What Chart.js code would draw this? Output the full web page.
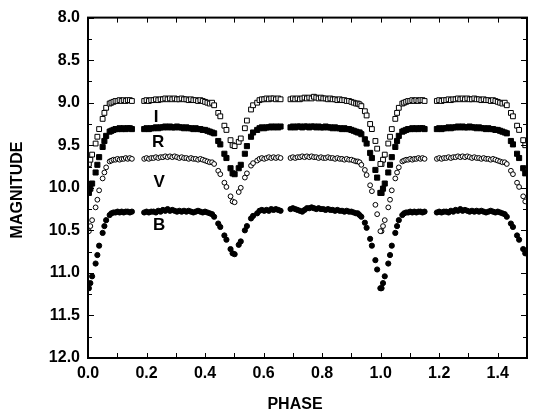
<!DOCTYPE html>
<html>
<head>
<meta charset="utf-8">
<script src="https://cdn.jsdelivr.net/npm/chart.js@4.4.1/dist/chart.umd.min.js"></script>
<style>
  html, body { margin: 0; padding: 0; background: #fff; }
  #lightCurve { display: block; }
</style>
</head>
<body>
<canvas id="lightCurve" width="533" height="417"></canvas>
<script>
// fases observadas (0..1), se repiten en 1..1.5
const phase = [
  0.003, 0.008, 0.014, 0.026, 0.032, 0.038, 0.050, 0.056, 0.062, 0.074, 0.080, 0.087,
  0.094, 0.101, 0.108, 0.115, 0.122, 0.129, 0.136, 0.143, 0.150,
  0.192, 0.200, 0.208, 0.216, 0.224, 0.232, 0.240, 0.248, 0.256, 0.264, 0.272, 0.280,
  0.288, 0.296, 0.304, 0.312, 0.320, 0.328, 0.336, 0.344, 0.352, 0.360, 0.368, 0.376,
  0.384, 0.392, 0.400, 0.408, 0.416,
  0.424, 0.431, 0.445, 0.452, 0.466, 0.473, 0.487, 0.494, 0.501, 0.515, 0.522, 0.536,
  0.543, 0.557, 0.564, 0.578,
  0.586, 0.594, 0.602, 0.610, 0.618, 0.626, 0.634, 0.642, 0.650, 0.658,
  0.692, 0.700, 0.708, 0.716, 0.724, 0.732, 0.740, 0.748, 0.756, 0.764, 0.772, 0.780,
  0.788, 0.796, 0.804, 0.812, 0.820, 0.828, 0.836, 0.844, 0.852, 0.860, 0.868, 0.876,
  0.884, 0.892, 0.900, 0.908, 0.916,
  0.922, 0.928, 0.934, 0.946, 0.952, 0.964, 0.970, 0.982, 0.988, 0.999
];

const magI = [
  9.72, 9.67, 9.61, 9.48, 9.40, 9.31, 9.19, 9.12, 9.06, 9.01, 9.00, 8.99,
  8.98, 8.98, 8.97, 8.98, 8.97, 8.98, 8.97, 8.97, 8.98,
  8.98, 8.97, 8.98, 8.97, 8.97, 8.96, 8.97, 8.96, 8.96, 8.95, 8.96, 8.95,
  8.96, 8.95, 8.96, 8.96, 8.95, 8.96, 8.96, 8.97, 8.96, 8.97, 8.97, 8.98,
  8.97, 8.98, 8.99, 9.00, 9.01,
  9.00, 9.03, 9.12, 9.16, 9.27, 9.32, 9.44, 9.50, 9.51, 9.46, 9.42, 9.30,
  9.21, 9.08, 9.03, 9.00,
  8.97, 8.96, 8.96, 8.95, 8.96, 8.95, 8.95, 8.96, 8.95, 8.96,
  8.96, 8.95, 8.96, 8.95, 8.96, 8.95, 8.94, 8.95, 8.94, 8.95, 8.93, 8.94,
  8.95, 8.94, 8.95, 8.95, 8.96, 8.95, 8.96, 8.96, 8.97, 8.96, 8.97, 8.97,
  8.98, 8.98, 8.99, 9.00, 9.01,
  9.01, 9.02, 9.04, 9.10, 9.15, 9.25, 9.31, 9.45, 9.54, 9.72
];

const magR = [
  10.06, 10.01, 9.95, 9.82, 9.73, 9.64, 9.52, 9.45, 9.39, 9.34, 9.33, 9.32,
  9.31, 9.31, 9.30, 9.31, 9.30, 9.31, 9.30, 9.30, 9.31,
  9.31, 9.30, 9.31, 9.30, 9.30, 9.29, 9.30, 9.29, 9.29, 9.28, 9.29, 9.28,
  9.29, 9.29, 9.28, 9.29, 9.29, 9.30, 9.29, 9.30, 9.30, 9.31, 9.30, 9.31,
  9.31, 9.32, 9.32, 9.33, 9.34,
  9.35, 9.36, 9.45, 9.49, 9.60, 9.65, 9.77, 9.83, 9.84, 9.77, 9.73, 9.60,
  9.51, 9.40, 9.35, 9.32,
  9.30, 9.29, 9.30, 9.29, 9.29, 9.28, 9.29, 9.28, 9.29, 9.28,
  9.29, 9.28, 9.29, 9.28, 9.28, 9.29, 9.28, 9.28, 9.29, 9.28, 9.28, 9.29,
  9.28, 9.29, 9.29, 9.28, 9.29, 9.29, 9.30, 9.29, 9.30, 9.30, 9.31, 9.30,
  9.31, 9.31, 9.32, 9.33, 9.34,
  9.35, 9.35, 9.37, 9.43, 9.48, 9.59, 9.65, 9.79, 9.88, 10.06
];

const magV = [
  10.51, 10.45, 10.38, 10.23, 10.14, 10.03, 9.89, 9.82, 9.76, 9.69, 9.68, 9.67,
  9.67, 9.66, 9.67, 9.66, 9.66, 9.65, 9.66, 9.65, 9.66,
  9.66, 9.65, 9.66, 9.65, 9.65, 9.64, 9.65, 9.64, 9.64, 9.63, 9.64, 9.63,
  9.64, 9.63, 9.64, 9.65, 9.64, 9.65, 9.65, 9.66, 9.65, 9.66, 9.66, 9.67,
  9.66, 9.67, 9.68, 9.69, 9.70,
  9.70, 9.72, 9.80, 9.84, 9.94, 9.99, 10.10, 10.16, 10.17, 10.05, 10.00, 9.88,
  9.83, 9.74, 9.71, 9.68,
  9.66, 9.65, 9.66, 9.65, 9.64, 9.65, 9.64, 9.65, 9.64, 9.65,
  9.65, 9.64, 9.65, 9.64, 9.64, 9.63, 9.64, 9.63, 9.64, 9.63, 9.64, 9.64,
  9.65, 9.64, 9.65, 9.65, 9.64, 9.65, 9.65, 9.66, 9.65, 9.66, 9.66, 9.67,
  9.66, 9.67, 9.67, 9.68, 9.69,
  9.69, 9.70, 9.73, 9.79, 9.85, 9.97, 10.04, 10.20, 10.31, 10.51
];

const magB = [
  11.18, 11.12, 11.04, 10.89, 10.79, 10.68, 10.53, 10.45, 10.38, 10.32, 10.30, 10.29,
  10.29, 10.28, 10.29, 10.28, 10.29, 10.28, 10.28, 10.29, 10.28,
  10.29, 10.28, 10.29, 10.28, 10.28, 10.29, 10.27, 10.28, 10.26, 10.27, 10.25, 10.27,
  10.26, 10.27, 10.28, 10.27, 10.28, 10.27, 10.28, 10.27, 10.28, 10.29, 10.28, 10.27,
  10.28, 10.29, 10.28, 10.29, 10.30,
  10.31, 10.34, 10.42, 10.46, 10.56, 10.61, 10.72, 10.77, 10.78, 10.67, 10.63, 10.50,
  10.45, 10.36, 10.33, 10.30,
  10.27, 10.26, 10.27, 10.26, 10.27, 10.25, 10.26, 10.25, 10.26, 10.27,
  10.25, 10.24, 10.25, 10.26, 10.27, 10.28, 10.26, 10.24, 10.24, 10.23, 10.24, 10.25,
  10.24, 10.25, 10.25, 10.26, 10.25, 10.26, 10.26, 10.27, 10.26, 10.27, 10.27, 10.28,
  10.27, 10.28, 10.28, 10.29, 10.30,
  10.30, 10.32, 10.34, 10.41, 10.47, 10.60, 10.68, 10.85, 10.96, 11.18
];

const bandNames = ['I', 'R', 'V', 'B'];
const phaseTicks = [0.0, 0.2, 0.4, 0.6, 0.8, 1.0, 1.2, 1.4];
const magTicks = [8.0, 8.5, 9.0, 9.5, 10.0, 10.5, 11.0, 11.5, 12.0];

const FONT = '"Liberation Sans", Arial, Helvetica, sans-serif';

document.addEventListener('DOMContentLoaded', function() {
    const ctx = document.getElementById('lightCurve').getContext('2d');

    // cada observacion se dibuja en su fase y otra vez una fase despues
    function puntos(mags) {
        const pts = [];
        phase.forEach(function(p, i) {
            pts.push({ x: p, y: mags[i] });
            if (p + 1 <= 1.5) pts.push({ x: p + 1, y: mags[i] });
        });
        return pts;
    }

    function esEtiqueta(v, lista) {
        return lista.some(t => Math.abs(t - v) < 1e-6);
    }

    const data = {
        datasets: [
            { label: bandNames[0], data: puntos(magI), pointStyle: 'rect', pointRadius: 3.4,
              backgroundColor: '#fff', borderColor: '#000', borderWidth: 1 },
            { label: bandNames[1], data: puntos(magR), pointStyle: 'rect', pointRadius: 3.6,
              backgroundColor: '#000', borderColor: '#000', borderWidth: 1 },
            { label: bandNames[2], data: puntos(magV), pointStyle: 'circle', pointRadius: 2.4,
              backgroundColor: '#fff', borderColor: '#000', borderWidth: 1 },
            { label: bandNames[3], data: puntos(magB), pointStyle: 'circle', pointRadius: 2.6,
              backgroundColor: '#000', borderColor: '#000', borderWidth: 1 }
        ]
    };

    // marco, ticks hacia adentro, titulos y nombres de las bandas
    const marco = {
        id: 'marco',
        afterDraw(chart) {
            const c = chart.ctx;
            const a = chart.chartArea;
            const x = chart.scales.x;
            const y = chart.scales.y;
            c.save();
            c.strokeStyle = '#000';
            c.lineWidth = 1;
            c.beginPath();
            x.ticks.forEach(function(t) {
                const px = Math.round(x.getPixelForValue(t.value)) + 0.5;
                const len = 5;
                c.moveTo(px, a.bottom); c.lineTo(px, a.bottom - len);
                c.moveTo(px, a.top); c.lineTo(px, a.top + len);
            });
            y.ticks.forEach(function(t) {
                const py = Math.round(y.getPixelForValue(t.value)) + 0.5;
                const len = esEtiqueta(t.value, magTicks) ? 6 : 4;
                c.moveTo(a.left, py); c.lineTo(a.left + len, py);
                c.moveTo(a.right, py); c.lineTo(a.right - len, py);
            });
            c.stroke();
            c.lineWidth = 2;
            c.strokeRect(a.left, a.top, a.right - a.left, a.bottom - a.top);

            c.fillStyle = '#000';
            c.textAlign = 'center';
            c.textBaseline = 'middle';
            c.font = 'bold 16px ' + FONT;
            c.fillText('PHASE', 295, 405);
            c.save();
            c.translate(18, 190);
            c.rotate(-Math.PI / 2);
            c.fillText('MAGNITUDE', 0, 0);
            c.restore();

            const posiciones = { I: [0.233, 9.17], R: [0.240, 9.47], V: [0.243, 9.93], B: [0.243, 10.44] };
            c.font = 'bold 17px ' + FONT;
            bandNames.forEach(function(n) {
                const p = posiciones[n];
                c.fillText(n, x.getPixelForValue(p[0]), y.getPixelForValue(p[1]));
            });
            c.restore();
        }
    };

    const options = {
        responsive: false,
        animation: false,
        events: [],
        layout: { padding: { top: 17, right: 1, left: 0, bottom: 0 } },
        plugins: { legend: { display: false }, tooltip: { enabled: false } },
        scales: {
            x: {
                type: 'linear', min: 0, max: 1.5,
                grid: { display: false, drawTicks: false },
                border: { display: false },
                ticks: {
                    stepSize: 0.1, autoSkip: false, maxRotation: 0, padding: 6, color: '#000',
                    font: { family: FONT, size: 16, weight: 'bold' },
                    callback: v => esEtiqueta(v, phaseTicks) ? v.toFixed(1) : ''
                },
                afterFit: s => { s.height = 59; }
            },
            y: {
                type: 'linear', reverse: true, min: 8, max: 12,
                grid: { display: false, drawTicks: false },
                border: { display: false },
                ticks: {
                    stepSize: 0.25, autoSkip: false, padding: 8, color: '#000',
                    font: { family: FONT, size: 16, weight: 'bold' },
                    callback: v => esEtiqueta(v, magTicks) ? v.toFixed(1) : ''
                },
                afterFit: s => { s.width = 88; }
            }
        }
    };

    const curva = new Chart(ctx, {
        type: 'scatter',
        data: data,
        options: options,
        plugins: [marco]
    });
});
</script>
</body>
</html>
